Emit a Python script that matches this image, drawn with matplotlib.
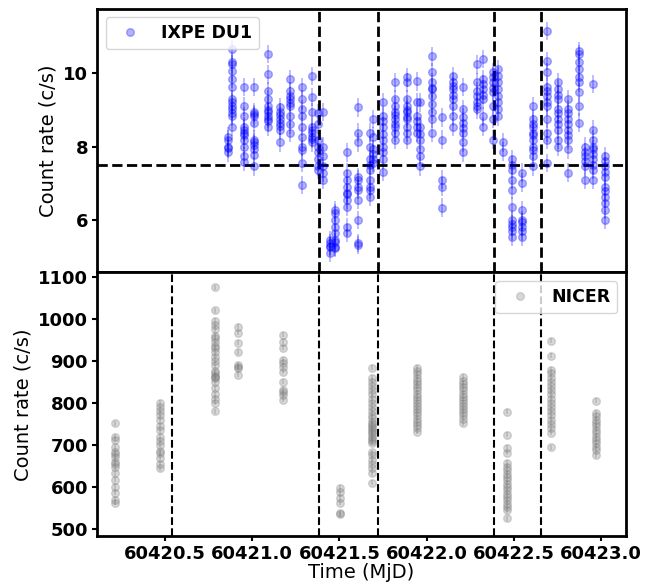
import numpy as np
import matplotlib
matplotlib.use("Agg")
import matplotlib.pyplot as plt
from matplotlib.lines import Line2D

# IXPE DU1 light curve: orbit time (MJD) and the rates seen in that orbit
ixpe_t = [60420.861, 60420.884, 60420.953, 60421.010, 60421.091, 60421.159,
          60421.217, 60421.286, 60421.343, 60421.377, 60421.406, 60421.446,
          60421.475, 60421.544, 60421.607, 60421.675, 60421.693, 60421.750,
          60421.819, 60421.888, 60421.945, 60421.962, 60422.031, 60422.088,
          60422.151, 60422.209, 60422.289, 60422.323, 60422.381, 60422.409,
          60422.438, 60422.490, 60422.547, 60422.610, 60422.690, 60422.753,
          60422.811, 60422.874, 60422.908, 60422.954, 60423.023]
ixpe_rate = [
    [7.84, 8.0, 8.19, 8.27, 7.95],
    [10.64, 10.29, 10.23, 10.04, 9.83, 9.63, 9.28, 9.2, 9.01, 8.82, 8.54, 8.9, 9.1],
    [9.61, 9.09, 8.82, 8.54, 8.46, 8.38, 8.19, 8.0, 7.73, 7.59, 8.3],
    [9.61, 8.93, 8.82, 8.65, 8.19, 8.11, 7.92, 7.78, 7.46, 8.05, 8.88],
    [10.51, 9.96, 9.5, 9.28, 9.09, 8.93, 8.82, 8.74, 8.54, 8.68, 9.0],
    [9.06, 8.93, 8.74, 8.65, 8.46, 8.11, 8.55, 8.85],
    [9.83, 9.5, 9.36, 9.28, 9.09, 8.82, 8.38, 8.6, 9.18],
    [9.61, 9.28, 9.01, 8.82, 8.54, 8.27, 8.0, 7.56, 6.96, 7.9],
    [9.91, 9.34, 8.93, 8.54, 8.38, 8.27, 8.11, 8.2, 8.45],
    [8.19, 8.0, 7.84, 7.65, 7.46, 7.37, 8.9, 8.6],
    [8.93, 8.0, 7.73, 7.46, 7.29, 7.1],
    [5.47, 5.38, 5.28, 5.11, 5.3],
    [6.2, 6.01, 5.82, 5.66, 5.47, 5.28, 5.4, 5.25, 6.28],
    [7.29, 7.1, 6.91, 6.75, 6.56, 6.37, 5.82, 5.66, 7.84, 6.7],
    [9.06, 8.38, 8.11, 7.18, 7.1, 6.83, 6.56, 6.01, 5.38, 5.33, 6.9],
    [8.38, 8.0, 7.65, 7.37, 7.1, 6.83, 6.64, 7.5, 6.9],
    [8.74, 8.27, 7.92, 7.65, 7.8, 7.55],
    [9.2, 8.82, 8.54, 8.19, 8.0, 7.84, 7.65, 7.32, 8.7, 8.35],
    [9.74, 9.28, 9.09, 8.93, 8.74, 8.54, 8.38, 8.19, 8.6, 8.85],
    [9.88, 9.74, 9.28, 9.09, 8.93, 8.74, 8.54, 8.38, 8.19, 8.8, 9.0],
    [9.77, 9.2, 8.82, 8.54, 8.38, 8.7],
    [9.2, 8.54, 8.19, 7.92, 7.73, 7.46, 8.35],
    [10.45, 10.02, 9.74, 9.55, 9.36, 8.93, 8.74, 8.38, 9.15, 9.6],
    [8.79, 8.19, 7.1, 6.91, 6.34],
    [9.91, 9.74, 9.55, 9.28, 9.09, 8.82, 8.54, 9.65, 9.4],
    [9.61, 9.01, 8.65, 8.38, 8.11, 7.84, 8.8, 8.5],
    [10.23, 9.74, 9.36, 9.2, 9.01, 9.5, 9.1],
    [10.37, 9.83, 9.55, 9.28, 8.82, 8.54, 9.7, 9.4],
    [10.02, 9.74, 9.47, 9.09, 8.74, 8.19, 9.9, 9.6],
    [10.1, 9.91, 9.74, 9.55, 9.36, 9.01, 8.82, 9.2],
    [8.11, 7.86],
    [7.65, 7.37, 7.1, 6.83, 6.37, 6.01, 5.82, 5.55, 5.7, 5.9, 7.5],
    [7.29, 7.02, 6.28, 6.01, 5.82, 5.55, 5.7, 5.95],
    [9.09, 8.74, 8.54, 8.38, 8.19, 8.0, 7.73, 7.46, 8.3, 8.6, 7.9],
    [11.13, 10.32, 10.02, 9.63, 9.36, 9.09, 8.74, 8.38, 8.19, 7.56, 9.5, 9.2],
    [9.74, 9.55, 9.28, 9.01, 8.74, 8.46, 8.19, 8.0, 9.4, 8.9, 8.6],
    [9.28, 9.01, 8.74, 8.46, 8.19, 7.92, 7.29, 8.6, 8.3, 8.9],
    [10.59, 10.29, 10.1, 9.74, 9.47, 9.09, 8.65, 10.5, 9.9],
    [8.0, 7.73, 7.46, 7.1, 7.85, 7.6],
    [9.69, 8.46, 8.19, 7.92, 7.65, 7.37, 7.1, 7.8, 7.5, 8.0],
    [7.73, 7.46, 7.18, 6.91, 6.64, 6.47, 6.28, 6.01, 7.6, 7.3, 6.8],
]
ixpe_err = 0.25

# NICER light curve
nicer_t = [60420.213, 60420.471, 60420.787, 60420.919, 60421.177, 60421.503,
           60421.687, 60421.945, 60422.209, 60422.461, 60422.713, 60422.971]
nicer_rate = [
    [752, 719, 712, 695, 683, 671, 660, 648, 633, 617, 600, 586, 569, 562, 678, 655],
    [800, 790, 780, 770, 760, 745, 735, 720, 710, 700, 685, 680, 670, 655, 645],
    [1075, 1020, 995, 975, 960, 945, 935, 920, 910, 900, 890, 875, 865, 860, 850,
     835, 820, 810, 800, 780, 930, 955, 985, 870, 862],
    [981, 967, 943, 921, 890, 883, 867, 885],
    [962, 945, 931, 902, 886, 874, 850, 831, 819, 807, 895, 825],
    [598, 588, 574, 562, 538, 535],
    [883, 860, 850, 840, 830, 820, 810, 800, 790, 780, 770, 765, 755, 750, 745,
     740, 735, 730, 725, 720, 715, 710, 705, 683, 675, 665, 655, 645, 633, 610],
    [883, 875, 868, 860, 852, 845, 838, 830, 822, 815, 808, 800, 792, 785, 778,
     770, 762, 755, 748, 740, 731],
    [862, 852, 845, 838, 830, 822, 815, 808, 800, 792, 785, 778, 770, 762, 752],
    [779, 724, 693, 681, 657, 648, 640, 632, 624, 616, 608, 600, 592, 584, 576,
     568, 560, 552, 545, 526],
    [948, 912, 879, 870, 860, 850, 840, 830, 820, 810, 800, 790, 780, 770, 760,
     750, 740, 729, 695],
    [805, 776, 768, 760, 752, 744, 736, 728, 720, 712, 704, 696, 688, 676],
]
nicer_err = 6

top_lines = [60421.385, 60421.72, 60422.385, 60422.655]
bottom_lines = [60420.54] + top_lines
threshold = 7.5

t1 = np.repeat(ixpe_t, [len(r) for r in ixpe_rate])
r1 = np.concatenate([np.array(r, float) for r in ixpe_rate])
t2 = np.repeat(nicer_t, [len(r) for r in nicer_rate])
r2 = np.concatenate([np.array(r, float) for r in nicer_rate])

fig, (ax1, ax2) = plt.subplots(2, 1, figsize=(6.52, 5.86), dpi=100, sharex=True)
fig.subplots_adjust(left=0.149, right=0.960, top=0.985, bottom=0.085, hspace=0)

ax1.errorbar(t1, r1, yerr=ixpe_err, fmt="o", color="b", ms=5.5, alpha=0.3,
             elinewidth=1.2)
for x in top_lines:
    ax1.axvline(x, color="k", ls="--", lw=2)
ax1.axhline(threshold, color="k", ls="--", lw=2)
ax1.set_ylim(4.58, 11.74)
ax1.set_yticks([6, 8, 10])
ax1.set_ylabel("Count rate (c/s)", fontsize=14)
h1 = Line2D([], [], ls="none", marker="o", color="b", ms=5.5, alpha=0.3)
ax1.legend([h1], ["IXPE DU1"], loc="upper left", prop={"weight": "bold", "size": 12.5})

ax2.errorbar(t2, r2, yerr=nicer_err, fmt="o", color="gray", ms=5.5, alpha=0.3)
for x in bottom_lines:
    ax2.axvline(x, color="k", ls="--", lw=1.5)
ax2.set_ylim(483, 1110)
ax2.set_yticks(range(500, 1101, 100))
ax2.set_xlim(60420.11, 60423.143)
ax2.set_xticks([60420.5, 60421.0, 60421.5, 60422.0, 60422.5, 60423.0])
ax2.set_xticklabels(["60420.5", "60421.0", "60421.5", "60422.0", "60422.5", "60423.0"])
ax2.set_ylabel("Count rate (c/s)", fontsize=14)
ax2.set_xlabel("Time (MjD)", fontsize=14, labelpad=0)
h2 = Line2D([], [], ls="none", marker="o", color="gray", ms=5.5, alpha=0.3)
ax2.legend([h2], ["NICER"], loc="upper right", prop={"weight": "bold", "size": 12.5})

for ax in (ax1, ax2):
    for s in ax.spines.values():
        s.set_linewidth(2)
    ax.tick_params(width=1.5, labelsize=13, pad=3)
    for lab in ax.get_xticklabels() + ax.get_yticklabels():
        lab.set_fontweight("bold")

fig.savefig("out.png", dpi=100)
